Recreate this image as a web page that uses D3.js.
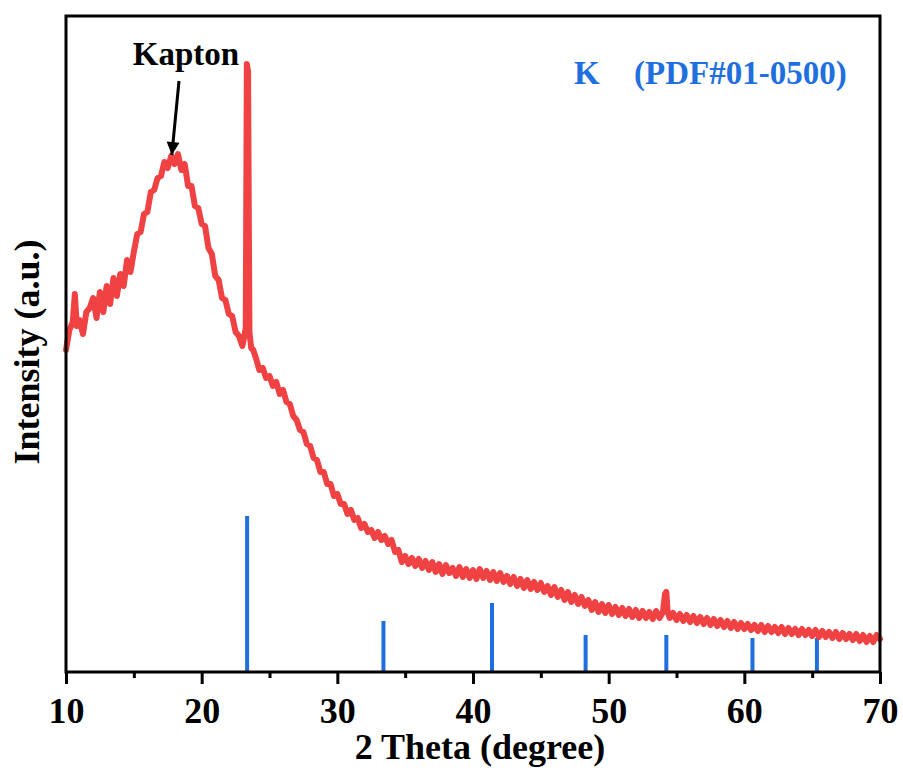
<!DOCTYPE html>
<html>
<head>
<meta charset="utf-8">
<script src="https://cdn.jsdelivr.net/npm/d3@7"></script>
<style>
  body { margin: 0; background: #fff; }
  svg text { font-family: "Times New Roman", "Liberation Serif", serif; font-weight: bold; }
</style>
</head>
<body>
<svg id="chart" width="903" height="771"></svg>
<script>
// XRD pattern, [2theta, intensity (a.u.)]
const pattern = [
  [10.00,322],[10.25,342],[10.50,350],[10.65,378],[10.80,346],[11.00,352],[11.25,338],[11.50,360],
  [11.75,364],[12.00,374],[12.25,354],[12.50,380],[12.75,360],[13.00,386],[13.25,368],[13.50,394],
  [13.75,376],[14.00,398],[14.25,386],[14.50,412],[14.75,400],[15.00,420],[15.25,438],[15.50,440],
  [15.75,458],[16.00,460],[16.25,480],[16.50,482],[16.75,494],[17.00,496],[17.25,510],[17.50,504],
  [17.75,516],[18.00,508],[18.25,518],[18.50,502],[18.75,508],[19.00,486],[19.25,486],[19.50,466],
  [19.75,464],[20.00,448],[20.25,446],[20.50,424],[20.75,418],[21.00,396],[21.25,392],[21.50,374],
  [21.75,372],[22.00,358],[22.25,356],[22.50,340],[22.75,336],[23.00,326],[23.15,336],[23.25,344],
  [23.33,608],[23.42,600],[23.52,340],[23.65,324],[23.80,322],[24.00,314],[24.25,302],[24.50,304],
  [24.75,294],[25.00,296],[25.25,286],[25.50,290],[25.75,278],[26.00,282],[26.25,270],[26.50,268],
  [26.75,256],[27.00,252],[27.25,242],[27.50,240],[27.75,228],[28.00,226],[28.25,214],[28.50,212],
  [28.75,200],[29.00,200],[29.25,188],[29.50,188],[29.75,176],[30.00,178],[30.25,168],[30.50,168],
  [30.75,158],[31.00,162],[31.25,152],[31.50,154],[31.75,144],[32.00,148],[32.25,140],[32.50,142],
  [32.75,134],[33.00,140],[33.25,132],[33.50,136],[33.75,128],[34.00,132],[34.25,120],[34.50,122],
  [34.75,110],[35.00,116],[35.25,108],[35.50,114],[35.75,106],[36.00,113],[36.25,104],[36.50,111],
  [36.75,102],[37.00,110],[37.25,100],[37.50,108],[37.75,98],[38.00,107],[38.25,99],[38.50,104],
  [38.75,96],[39.00,105],[39.25,95],[39.50,103],[39.75,94],[40.00,102],[40.25,93],[40.50,103],
  [40.75,94],[41.00,101],[41.25,92],[41.50,100],[41.75,91],[42.00,99],[42.25,90],[42.50,96],
  [42.75,88],[43.00,95],[43.25,86],[43.50,93],[43.75,84],[44.00,92],[44.25,83],[44.50,90],
  [44.75,82],[45.00,89],[45.25,80],[45.50,86],[45.75,77],[46.00,85],[46.25,75],[46.50,82],
  [46.75,72],[47.00,80],[47.25,70],[47.50,77],[47.75,68],[48.00,75],[48.25,66],[48.50,72],
  [48.75,62],[49.00,70],[49.25,60],[49.50,68],[49.75,59],[50.00,67],[50.25,58],[50.50,65],
  [50.75,57],[51.00,64],[51.25,56],[51.50,63],[51.75,55],[52.00,62],[52.25,54],[52.50,61],
  [52.75,54],[53.00,60],[53.25,53],[53.50,61],[53.75,54],[54.00,60],[54.15,78],[54.25,80],
  [54.35,60],[54.50,54],[54.75,59],[55.00,52],[55.25,58],[55.50,51],[55.75,57],[56.00,50],
  [56.25,56],[56.50,49],[56.75,55],[57.00,48],[57.25,54],[57.50,47],[57.75,53],[58.00,46],
  [58.25,52],[58.50,45],[58.75,51],[59.00,44],[59.25,50],[59.50,43],[59.75,49],[60.00,43],
  [60.25,48],[60.50,42],[60.75,47],[61.00,41],[61.25,47],[61.50,40],[61.75,46],[62.00,40],
  [62.25,45],[62.50,39],[62.75,45],[63.00,38],[63.25,44],[63.50,38],[63.75,43],[64.00,37],
  [64.25,43],[64.50,37],[64.75,42],[65.00,36],[65.25,42],[65.50,35],[65.75,41],[66.00,35],
  [66.25,40],[66.50,34],[66.75,40],[67.00,33],[67.25,39],[67.50,33],[67.75,38],[68.00,32],
  [68.25,38],[68.50,31],[68.75,37],[69.00,30],[69.25,36],[69.50,30],[69.75,37],[70.00,33]
];

// reference card K (PDF#01-0500)
const refPeaks = [23.35, 33.4, 41.4, 48.3, 54.25, 60.6, 65.35];
const refHeights = [156, 51, 69, 37, 37, 34, 34];

const majorTicks = [10, 20, 30, 40, 50, 60, 70];
const minorTicks = [15, 25, 35, 45, 55, 65];

const red = '#f04242';
const blue = '#1f6fde';

const margin = {top: 16, left: 66, right: 23, bottom: 99};
const width = 903, height = 771;

const svg = d3.select('#chart');

const x = d3.scaleLinear().domain([10, 70]).range([margin.left, width - margin.right]);
const y = d3.scaleLinear().domain([0, 656]).range([height - margin.bottom, margin.top]);

// reference sticks
svg.append('g')
  .selectAll('line')
  .data(refPeaks)
  .join('line')
  .attr('x1', d => x(d))
  .attr('x2', d => x(d))
  .attr('y1', y(0))
  .attr('y2', (d, i) => y(refHeights[i]))
  .attr('stroke', blue)
  .attr('stroke-width', 4);

// measured pattern
svg.append('path')
  .datum(pattern)
  .attr('fill', 'none')
  .attr('stroke', red)
  .attr('stroke-width', 6)
  .attr('stroke-linejoin', 'round')
  .attr('stroke-linecap', 'round')
  .attr('d', d3.line().x(d => x(d[0])).y(d => y(d[1])));

// frame
svg.append('rect')
  .attr('x', margin.left)
  .attr('y', margin.top)
  .attr('width', width - margin.left - margin.right)
  .attr('height', height - margin.top - margin.bottom)
  .attr('fill', 'none')
  .attr('stroke', '#000')
  .attr('stroke-width', 3);

// bottom axis
const axisG = svg.append('g')
  .attr('transform', 'translate(0,' + y(0) + ')')
  .call(d3.axisBottom(x).tickValues(majorTicks).tickSize(12).tickPadding(13).tickFormat(d3.format('d')));
axisG.select('.domain').remove();
axisG.selectAll('line').attr('stroke-width', 3);
axisG.selectAll('text').attr('font-size', 36).attr('fill', '#000')
  .style('font-family', '"Times New Roman", "Liberation Serif", serif').style('font-weight', 'bold');

const minorG = svg.append('g')
  .attr('transform', 'translate(0,' + y(0) + ')')
  .call(d3.axisBottom(x).tickValues(minorTicks).tickSize(6).tickFormat(''));
minorG.select('.domain').remove();
minorG.selectAll('line').attr('stroke-width', 3);

// axis titles
svg.append('text')
  .attr('x', 480)
  .attr('y', 759)
  .attr('text-anchor', 'middle')
  .attr('font-size', 36)
  .text('2 Theta (degree)');

svg.append('text')
  .attr('transform', 'translate(39,352) rotate(-90)')
  .attr('text-anchor', 'middle')
  .attr('font-size', 36)
  .text('Intensity (a.u.)');

// Kapton annotation
svg.append('defs').append('marker')
  .attr('id', 'arrow')
  .attr('viewBox', '0 0 10 10')
  .attr('refX', 10).attr('refY', 5)
  .attr('markerWidth', 24).attr('markerHeight', 13)
  .attr('markerUnits', 'userSpaceOnUse')
  .attr('orient', 'auto')
  .append('path')
  .attr('d', 'M0,0 L10,5 L0,10 Z')
  .attr('fill', '#000');

svg.append('line')
  .attr('x1', 179).attr('y1', 81)
  .attr('x2', x(17.8)).attr('y2', 155)
  .attr('stroke', '#000')
  .attr('stroke-width', 3)
  .attr('marker-end', 'url(#arrow)');

svg.append('text')
  .attr('x', 186)
  .attr('y', 65)
  .attr('text-anchor', 'middle')
  .attr('font-size', 33)
  .text('Kapton');

// legend
const legend = svg.append('text')
  .attr('y', 84)
  .attr('font-size', 33)
  .attr('fill', blue);
legend.append('tspan').attr('x', 574).text('K');
legend.append('tspan').attr('x', 634).text('(PDF#01-0500)');
</script>
</body>
</html>
